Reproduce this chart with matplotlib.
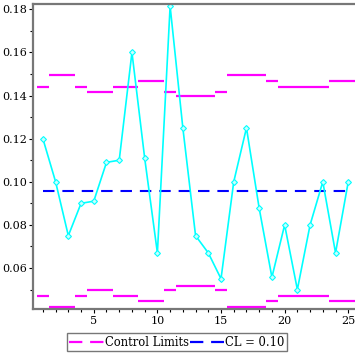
import numpy as np
import matplotlib
matplotlib.use("Agg")
import matplotlib.pyplot as plt
from matplotlib.ticker import MultipleLocator

# sample index and plotted proportions
samples = list(range(1, 26))
values = [0.120, 0.100, 0.075, 0.090, 0.091, 0.109, 0.110, 0.160, 0.111, 0.067,
          0.1815, 0.125, 0.075, 0.067, 0.055, 0.100, 0.125, 0.0877, 0.0557, 0.080,
          0.050, 0.080, 0.100, 0.067, 0.100]
center_line = 0.0957
ucl = [0.1440, 0.1497, 0.1497, 0.1440, 0.1417, 0.1417, 0.1440, 0.1440, 0.1466, 0.1466,
       0.1417, 0.1399, 0.1399, 0.1399, 0.1417, 0.1497, 0.1497, 0.1497, 0.1466, 0.1440,
       0.1440, 0.1440, 0.1440, 0.1466, 0.1466]
lcl = [0.0472, 0.0417, 0.0417, 0.0472, 0.0497, 0.0497, 0.0472, 0.0472, 0.0448, 0.0448,
       0.0497, 0.0515, 0.0515, 0.0515, 0.0497, 0.0417, 0.0417, 0.0417, 0.0448, 0.0472,
       0.0472, 0.0472, 0.0472, 0.0448, 0.0448]
ytick_vals = [0.06, 0.08, 0.10, 0.12, 0.14, 0.16, 0.18]

plt.rcParams["font.family"] = "DejaVu Serif"

fig = plt.figure(figsize=(3.55, 3.55), dpi=100)
ax = fig.add_axes([0.094, 0.1287, 0.906, 0.8614])

x = np.array(samples)
ax.hlines(ucl, x - 0.5, x + 0.5, colors="#ff00ff", linewidth=1.6)
ax.hlines(lcl, x - 0.5, x + 0.5, colors="#ff00ff", linewidth=1.6)
ax.plot([samples[0], samples[-1]], [center_line, center_line], color="#0000ff",
        linewidth=1.5, dashes=(5.5, 3.8))
ax.plot(samples, values, color="#00ffff", linewidth=1.2, marker="D", markersize=3,
        markerfacecolor="#c8ffff", markeredgecolor="#00ffff", markeredgewidth=0.8)

ax.set_xlim(0.253, 25.53)
ax.set_ylim(0.04084, 0.18269)
ax.xaxis.set_major_locator(MultipleLocator(5))
ax.xaxis.set_minor_locator(MultipleLocator(1))
ax.yaxis.set_minor_locator(MultipleLocator(0.01))
ax.set_yticks(ytick_vals)
ax.set_yticklabels([f"{v:.2f}" for v in ytick_vals])
ax.tick_params(which="both", direction="out", length=3, width=0.8, color="black",
               labelsize=8, pad=1.5)
ax.tick_params(which="minor", length=2.5)

for side in ["left", "bottom", "top"]:
    ax.spines[side].set_color("#777777")
    ax.spines[side].set_linewidth(1.6)
ax.spines["right"].set_visible(False)

h1, = ax.plot([], [], color="#ff00ff", linewidth=1.6, dashes=(6, 3.5))
h2, = ax.plot([], [], color="#0000ff", linewidth=1.6, dashes=(6, 3.5))
leg = fig.legend([h1, h2], ["Control Limits", "CL = 0.10"], loc="lower center",
                 bbox_to_anchor=(0.498, 0.005), ncol=2, fontsize=8.3, fancybox=False,
                 handlelength=3.0, handletextpad=0.05, columnspacing=0.1,
                 borderpad=0.2, borderaxespad=0.2)
leg.get_frame().set_edgecolor("#555555")
leg.get_frame().set_linewidth(1.0)

fig.savefig("out.png", dpi=100)
